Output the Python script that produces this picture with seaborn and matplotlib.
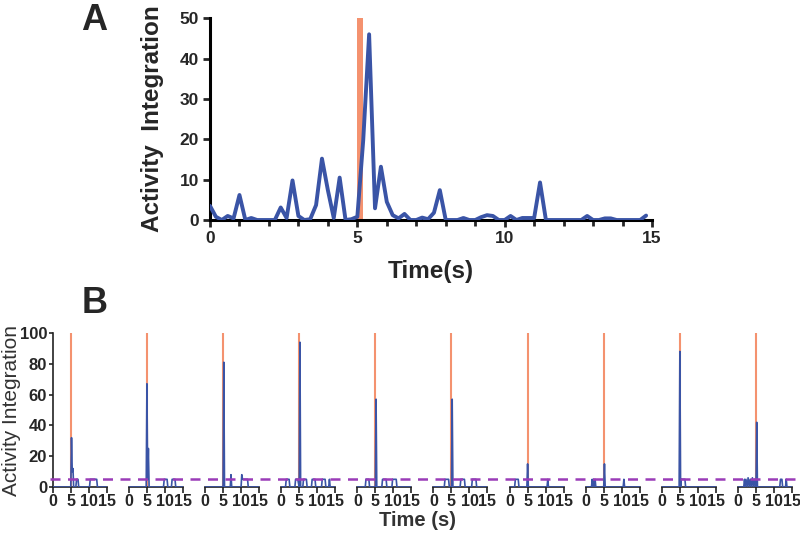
import numpy as np
import matplotlib
matplotlib.use("Agg")
import matplotlib.pyplot as plt
import seaborn as sns

# ---- Panel A data: one trial, sampled every 0.2 s ----
time_a = np.round(np.arange(0, 14.81, 0.2), 1)
activity_a = [3.5, 0.8, 0, 1, 0.4,
              6.2, 0, 0.5, 0, 0,
              0, 0, 3.1, 0.5, 9.8,
              1, 0, 0.2, 3.7, 15.2,
              7.4, 0.5, 10.5, 0, 0.2,
              0.8, 19.8, 46, 2.9, 13.2,
              4.5, 1.2, 0.4, 1.5, 0,
              0, 0.6, 0.2, 1.8, 7.4,
              0, 0, 0, 0.5, 0,
              0, 0.7, 1.2, 1.0, 0,
              0, 1, 0, 0.5, 0.5,
              0.5, 9.3, 0, 0, 0,
              0, 0, 0, 0, 1,
              0, 0, 0.4, 0.4, 0,
              0, 0, 0, 0, 1.1]
stim_start_a, stim_end_a, stim_height_a = 5.0, 5.2, 50

# ---- Panel B data: ten trials ----
trial_times = [
    [0, 5.0, 5.2, 5.4, 5.6, 5.8, 6.4, 6.6, 7.0, 7.2, 10.2, 10.4, 12.2, 12.4, 15],
    [0, 4.8, 5.0, 5.2, 5.4, 5.6, 9.6, 9.8, 10.6, 10.8, 11.8, 12.0, 12.8, 13.0, 15],
    [0, 5.0, 5.2, 5.4, 7.0, 7.2, 7.4, 10.0, 10.2, 10.4, 11.8, 12.0, 15],
    [0, 1.2, 1.4, 2.2, 2.4, 3.8, 4.0, 4.6, 5.0, 5.2, 5.4, 6.0, 6.2, 7.0, 7.2,
     8.4, 8.6, 9.4, 9.6, 11.2, 11.4, 12.2, 12.4, 13.2, 13.4, 13.6, 15],
    [0, 2.2, 2.4, 3.2, 3.4, 5.0, 5.2, 5.4, 6.8, 7.0, 8.0, 8.2, 9.6, 9.8, 10.8, 11.0, 15],
    [0, 3.0, 3.2, 4.2, 4.4, 5.0, 5.2, 5.4, 7.4, 7.6, 8.6, 8.8, 10.6, 10.8, 11.8, 12.0, 15],
    [0, 1.4, 1.6, 2.4, 2.6, 4.8, 5.0, 5.2, 10.4, 10.6, 10.8, 15],
    [0, 1.6, 1.8, 2.0, 2.2, 2.4, 2.6, 2.8, 5.0, 5.2, 5.4, 10.4, 10.6, 10.8, 15],
    [0, 4.8, 5.0, 5.2, 5.4, 6.4, 6.6, 15],
    [0, 1.6, 1.8, 2.0, 2.2, 2.6, 2.8, 3.2, 3.4, 3.8, 4.0, 4.4, 4.6, 5.0, 5.2, 5.4,
     11.6, 11.8, 12.2, 12.4, 13.2, 13.4, 13.6, 15],
]
trial_values = [
    [0, 0, 32, 10, 12, 0, 0, 5, 5, 0, 0, 5, 5, 0, 0],
    [0, 0, 67, 5, 25, 0, 0, 5, 5, 0, 0, 5, 5, 0, 0],
    [0, 0, 81, 0, 0, 8, 0, 0, 8, 5, 5, 0, 0],
    [0, 0, 5, 5, 0, 0, 5, 5, 0, 94, 0, 0, 5, 5, 0,
     0, 5, 5, 0, 0, 5, 5, 0, 0, 5, 0, 0],
    [0, 0, 5, 5, 0, 0, 57, 0, 0, 5, 5, 0, 0, 5, 5, 0, 0],
    [0, 0, 5, 5, 0, 0, 57, 0, 0, 5, 5, 0, 0, 5, 5, 0, 0],
    [0, 0, 5, 5, 0, 0, 15, 0, 0, 5, 0, 0],
    [0, 0, 5, 0, 5, 0, 5, 0, 0, 15, 0, 0, 5, 0, 0],
    [0, 0, 88, 0, 5, 5, 0, 0],
    [0, 0, 5, 0, 5, 0, 6, 0, 5, 0, 6, 0, 5, 0, 42, 0,
     0, 5, 5, 0, 0, 5, 0, 0],
]
stim_time_b = 5
threshold_b = 5

blue = "#3a54a6"
salmon = "#f4926f"
purple = "#9a3cb8"

sns.set_style("ticks")
plt.rcParams["font.family"] = ["Liberation Sans", "DejaVu Sans"]

fig = plt.figure(figsize=(8, 5.34), dpi=100)

# ---------------- Panel A ----------------
ax_a = fig.add_axes([0.2625, 0.588, 0.5525, 0.378])
ax_a.fill_between([stim_start_a, stim_end_a], 0, stim_height_a, color=salmon, lw=0, zorder=1)
sns.lineplot(x=time_a, y=activity_a, ax=ax_a, color=blue, linewidth=2.8, zorder=3)
ax_a.set_xlim(0, 15)
ax_a.set_ylim(0, 50)
ax_a.set_xticks([0, 5, 10, 15])
ax_a.set_xticks(np.arange(0, 16, 1), minor=True)
ax_a.set_yticks([0, 10, 20, 30, 40, 50])
for s in ["top", "right"]:
    ax_a.spines[s].set_visible(False)
for s in ["left", "bottom"]:
    ax_a.spines[s].set_linewidth(2.2)
    ax_a.spines[s].set_color("black")
ax_a.tick_params(which="major", length=5, width=2, labelsize=12.5, pad=3)
ax_a.tick_params(which="minor", axis="x", length=4, width=2)
for lab in ax_a.get_xticklabels() + ax_a.get_yticklabels():
    lab.set_fontweight("bold")
ax_a.set_xlabel("Time(s)", fontsize=17.5, fontweight="bold", labelpad=10)
ax_a.set_ylabel("Activity  Integration", fontsize=17.5, fontweight="bold", labelpad=11)

fig.text(0.118, 0.995, "A", fontsize=26, fontweight="bold", ha="center", va="top")
fig.text(0.118, 0.465, "B", fontsize=26, fontweight="bold", ha="center", va="top")

# ---------------- Panel B ----------------
gs = fig.add_gridspec(1, 10, left=0.066, right=0.99, bottom=0.088, top=0.3764, wspace=0.41)
for i in range(10):
    ax = fig.add_subplot(gs[0, i])
    ax.plot([stim_time_b, stim_time_b], [0, 100], color=salmon, lw=1.5, zorder=1)
    sns.lineplot(x=trial_times[i], y=trial_values[i], ax=ax, color=blue,
                 linewidth=1.2, zorder=3, estimator=None)
    ax.set_xlim(0, 15)
    ax.set_ylim(0, 100)
    ax.set_xticks([0, 5, 10, 15])
    ax.spines["top"].set_visible(False)
    ax.spines["right"].set_visible(False)
    ax.spines["bottom"].set_linewidth(1.2)
    ax.spines["bottom"].set_color("#222222")
    ax.tick_params(axis="x", length=4, width=1.2, labelsize=11.5, pad=1, color="#222222")
    for lab in ax.get_xticklabels():
        lab.set_fontweight("bold")
    if i == 0:
        ax.set_yticks([0, 20, 40, 60, 80, 100])
        ax.spines["left"].set_linewidth(1.2)
        ax.spines["left"].set_color("#222222")
        ax.tick_params(axis="y", length=3, width=1.2, labelsize=12, pad=1)
        for lab in ax.get_yticklabels():
            lab.set_fontweight("bold")
    else:
        ax.spines["left"].set_visible(False)
        ax.set_yticks([])

# dashed threshold across all trials
ax_over = fig.add_axes([0.062, 0.088, 0.935, 0.2884])
ax_over.set_xlim(0, 1)
ax_over.set_ylim(0, 100)
ax_over.axhline(threshold_b, color=purple, lw=1.8, ls=(0, (4, 3)))
ax_over.axis("off")

fig.text(0.522, 0.026, "Time (s)", fontsize=14.5, fontweight="bold", color="#333333",
         ha="center", va="center")
fig.text(0.014, 0.232, "Activity Integration", fontsize=15, color="#333333",
         rotation=90, ha="center", va="center")

fig.savefig("out.png", dpi=100)
